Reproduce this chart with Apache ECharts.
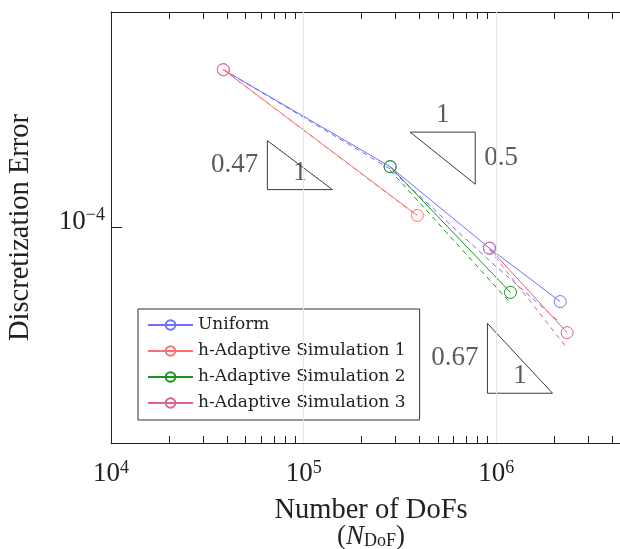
<!DOCTYPE html>
<html>
<head>
<meta charset="utf-8">
<script src="https://cdn.jsdelivr.net/npm/echarts@6/dist/echarts.min.js"></script>
<style>
html, body { margin: 0; padding: 0; background: #fff; }
#chart { width: 620px; height: 549px; }
</style>
</head>
<body>
<div id="chart"></div>
<script>
// convergence plot, error vs number of DoFs (log-log)
var seriesNames  = ['Uniform', 'h-Adaptive Simulation 1', 'h-Adaptive Simulation 2', 'h-Adaptive Simulation 3'];
var seriesColors = ['#6e6eff', '#ff6e6e', '#1a931a', '#de618b'];

// measured error (solid, with markers)
var uniformDofs = [38300, 281000, 921000, 2145000];
var uniformErr  = [3.25e-4, 1.575e-4, 8.57e-5, 5.75e-5];
var sim1Dofs = [38300, 389000];
var sim1Err  = [3.25e-4, 1.094e-4];
var sim2Dofs = [281000, 1184000];
var sim2Err  = [1.575e-4, 6.16e-5];
var sim3Dofs = [921000, 2331000];
var sim3Err  = [8.57e-5, 4.56e-5];

// estimated error (dashed, no markers)
var uniformEstDofs = [38300, 281000, 921000, 2120000];
var uniformEstErr  = [3.25e-4, 1.549e-4, 7.81e-5, 4.94e-5];
var sim1EstDofs = [38300, 389000];
var sim1EstErr  = [3.25e-4, 1.09e-4];
var sim2EstDofs = [281000, 1193000];
var sim2EstErr  = [1.534e-4, 5.66e-5];
var sim3EstDofs = [921000, 2331000];
var sim3EstErr  = [8.48e-5, 4.06e-5];

// slope triangles
var triRates  = [0.47, 0.5, 0.67];
var triLabels = ['0.47', '0.5', '0.67'];
var triShapes = ['lower', 'upper', 'lower'];
var triCornerDofs = [64790, 356800, 899000];
var triCornerErr  = [1.327e-4, 2.039e-4, 2.90e-5];
var triWidth = 0.338;   // decades

// ticks
var majorXTicks = [1e4, 1e5, 1e6];
var minorXTicks = [2e4, 3e4, 4e4, 5e4, 6e4, 7e4, 8e4, 9e4,
                   2e5, 3e5, 4e5, 5e5, 6e5, 7e5, 8e5, 9e5,
                   2e6, 3e6, 4e6, 5e6];
var majorYTicks = [1e-4];

var serifFont = "'Liberation Serif', 'DejaVu Serif', serif";
var textColor = '#222';
var axisColor = '#222';

function zip(xs, ys) {
    var out = [];
    for (var i = 0; i < xs.length; i++) out.push([xs[i], ys[i]]);
    return out;
}

function powLabel(v) {
    var e = Math.round(Math.log10(v));
    return '{b|10}{s|' + (e < 0 ? '\u2212' + (-e) : e) + '}';
}

var powRich = {
    b: { fontFamily: serifFont, fontSize: 27, lineHeight: 30, color: textColor },
    s: { fontFamily: serifFont, fontSize: 18, lineHeight: 18, verticalAlign: 'top', color: textColor }
};

function xAxisCfg(pos, ticks, len, showLine, showLabel) {
    return {
        type: 'log', logBase: 10, position: pos, min: 1e4, max: 5e6,
        axisLine: { show: showLine, lineStyle: { color: axisColor, width: 1 } },
        axisTick: { show: true, inside: true, length: len, customValues: ticks,
                    lineStyle: { color: axisColor, width: 1 } },
        axisLabel: { show: showLabel, customValues: majorXTicks, margin: 16,
                     formatter: powLabel, rich: powRich },
        splitLine: { show: false },
        minorTick: { show: false }
    };
}

var xAxes = [
    xAxisCfg('bottom', majorXTicks, 11, true, true),
    xAxisCfg('bottom', minorXTicks, 7, false, false),
    xAxisCfg('top', majorXTicks, 11, true, false),
    xAxisCfg('top', minorXTicks, 7, false, false)
];
xAxes[0].name = '{t|Number of DoFs}\n{p|(}{i|N}{sub|DoF}{p|)}';
xAxes[0].nameLocation = 'middle';
xAxes[0].nameGap = 54;
xAxes[0].nameTextStyle = {
    rich: {
        t: { fontFamily: serifFont, fontSize: 28.5, lineHeight: 27, color: textColor },
        p: { fontFamily: serifFont, fontSize: 27, lineHeight: 26, color: textColor },
        i: { fontFamily: serifFont, fontSize: 27, lineHeight: 26, fontStyle: 'italic', color: textColor },
        sub: { fontFamily: serifFont, fontSize: 18, lineHeight: 16, verticalAlign: 'bottom', color: textColor }
    }
};

var series = [];

// major grid lines
series.push({
    type: 'line', name: 'grid', data: [], silent: true, z: 1,
    markLine: {
        silent: true, symbol: ['none', 'none'], label: { show: false }, animation: false,
        lineStyle: { color: '#e4e4e4', width: 1, type: 'solid' },
        data: [{ xAxis: 1e5 }, { xAxis: 1e6 }, { yAxis: 1e-4 }]
    }
});

var solidData = [zip(uniformDofs, uniformErr), zip(sim1Dofs, sim1Err),
                 zip(sim2Dofs, sim2Err), zip(sim3Dofs, sim3Err)];
var dashedData = [zip(uniformEstDofs, uniformEstErr), zip(sim1EstDofs, sim1EstErr),
                  zip(sim2EstDofs, sim2EstErr), zip(sim3EstDofs, sim3EstErr)];

for (var k = 0; k < seriesNames.length; k++) {
    series.push({
        type: 'line', name: seriesNames[k] + ' (est.)', data: dashedData[k],
        symbol: 'none', silent: true, z: 3,
        lineStyle: { color: seriesColors[k], width: 1, type: [5, 4] }
    });
}
for (var k = 0; k < seriesNames.length; k++) {
    series.push({
        type: 'line', name: seriesNames[k], data: solidData[k],
        symbol: 'circle', symbolSize: 12, showSymbol: true, z: 4,
        lineStyle: { color: seriesColors[k], width: 1 },
        itemStyle: { color: 'rgba(0,0,0,0)', borderColor: seriesColors[k], borderWidth: 1 },
        emphasis: { disabled: true }
    });
}

// slope triangles and their labels
for (var t = 0; t < triRates.length; t++) {
    var x0 = triCornerDofs[t], y0 = triCornerErr[t];
    var dx = Math.pow(10, triWidth);
    var dy = Math.pow(10, triRates[t] * triWidth);
    var hdy = Math.pow(10, triRates[t] * triWidth / 2);
    var xm = x0 * Math.pow(10, triWidth / 2);
    var pts, labelPts;
    if (triShapes[t] === 'lower') {
        pts = [[x0, y0 * dy], [x0, y0], [x0 * dx, y0], [x0, y0 * dy]];
        labelPts = [
            { value: [x0, y0 * hdy], label: { formatter: triLabels[t], position: 'left', distance: 9 } },
            { value: [xm, y0], label: { formatter: '1', position: 'inside', offset: [0, -17] } }
        ];
    } else {
        pts = [[x0, y0], [x0 * dx, y0], [x0 * dx, y0 / dy], [x0, y0]];
        labelPts = [
            { value: [x0 * dx, y0 / hdy], label: { formatter: triLabels[t], position: 'right', distance: 9 } },
            { value: [xm, y0], label: { formatter: '1', position: 'top', distance: 4 } }
        ];
    }
    series.push({
        type: 'line', name: 'tri' + t, data: pts, symbol: 'none', silent: true, z: 2,
        lineStyle: { color: '#3a3a3a', width: 1 }
    });
    series.push({
        type: 'scatter', name: 'tri-label' + t, data: labelPts, symbolSize: 0, silent: true, z: 2,
        label: { show: true, fontFamily: serifFont, fontSize: 27, color: '#333' }
    });
}

var chart = echarts.init(document.getElementById('chart'), null, { renderer: 'canvas' });
chart.setOption({
    animation: false,
    backgroundColor: '#fff',
    grid: { left: 111, right: -11, top: 12, bottom: 106, containLabel: false, outerBoundsMode: 'none' },
    legend: {
        data: seriesNames,
        orient: 'vertical',
        left: 138, top: 309,
        padding: [7, 14, 8, 9],
        itemGap: 8,
        itemWidth: 45, itemHeight: 12,
        backgroundColor: '#fff',
        borderColor: '#333', borderWidth: 1,
        selectedMode: false,
        textStyle: { fontFamily: "'DejaVu Serif', serif", fontSize: 17, lineHeight: 18, color: textColor }
    },
    xAxis: xAxes,
    yAxis: {
        type: 'log', logBase: 10, min: 2e-5, max: 5e-4,
        axisLine: { show: true, lineStyle: { color: axisColor, width: 1 } },
        axisTick: { show: true, inside: true, length: 11, customValues: majorYTicks,
                    lineStyle: { color: axisColor, width: 1 } },
        axisLabel: { customValues: majorYTicks, margin: 6, padding: [0, 0, 12, 0],
                     formatter: powLabel, rich: powRich },
        splitLine: { show: false },
        name: 'Discretization Error',
        nameLocation: 'middle',
        nameGap: 76,
        nameTextStyle: { fontFamily: serifFont, fontSize: 28.5, color: textColor }
    },
    series: series
});
</script>
</body>
</html>
